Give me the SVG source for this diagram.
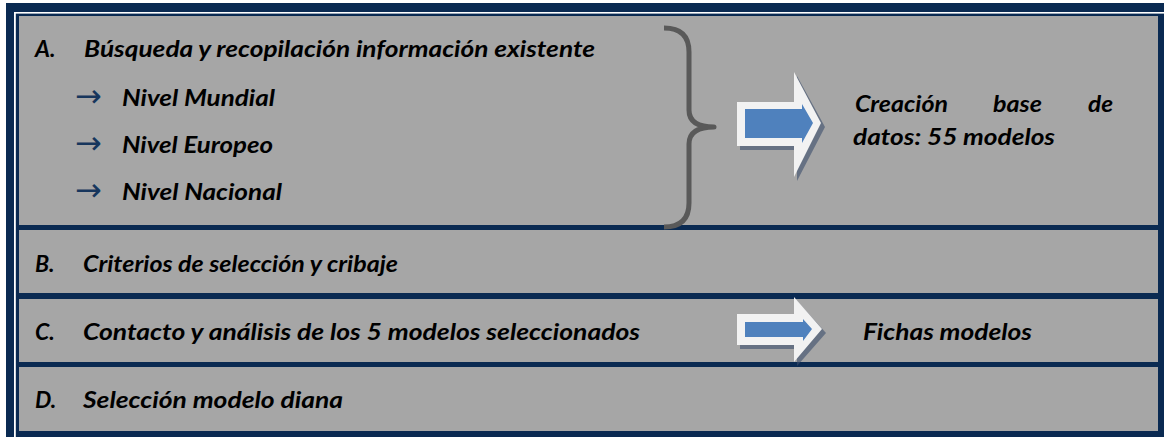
<svg xmlns="http://www.w3.org/2000/svg" width="1164" height="437" viewBox="0 0 1164 437">
<style>
.cell{fill:#a6a6a6}
.t{font-family:Lato,"Liberation Sans",sans-serif;font-weight:bold;font-style:italic;font-size:23px;fill:#000}
.arr{font-family:"DejaVu Sans",sans-serif;font-size:32px;fill:#17365d}
.outer{fill:#f2f2f2}
.inner{fill:#4f81bd}
.shadow{fill:#3c4e6c;opacity:0.6}
</style>
<rect x="0" y="0" width="1164" height="437" fill="#ffffff"/>
<rect x="6" y="3" width="1158" height="434" fill="#0a2a52"/>
<rect x="14" y="12" width="1150" height="1.6" fill="#ffffff"/>
<rect x="14" y="12" width="1.8" height="425" fill="#ffffff"/>
<g id="rowA">
<rect class="cell" x="19" y="16" width="1139" height="209"/>
<text class="t" x="35" y="57">A.</text>
<text class="t" x="84" y="57" textLength="511" lengthAdjust="spacingAndGlyphs">Búsqueda y recopilación información existente</text>
<text class="arr" x="75" y="107">→</text>
<text class="t" x="122" y="106" textLength="153" lengthAdjust="spacingAndGlyphs">Nivel Mundial</text>
<text class="arr" x="75" y="154">→</text>
<text class="t" x="122" y="153" textLength="151" lengthAdjust="spacingAndGlyphs">Nivel Europeo</text>
<text class="arr" x="75" y="201">→</text>
<text class="t" x="122" y="200" textLength="160" lengthAdjust="spacingAndGlyphs">Nivel Nacional</text>
</g>
<g id="brace">
<path d="M664,28 Q689,28 689,52 L689,110 Q689,127 714,127 Q689,127 689,144 L689,203 Q689,227 664,227" fill="none" stroke="#595959" stroke-width="5" stroke-linejoin="round"/>
</g>
<g id="rowB">
<rect class="cell" x="19" y="230" width="1139" height="63"/>
<text class="t" x="35" y="272">B.</text>
<text class="t" x="83" y="272" textLength="315" lengthAdjust="spacingAndGlyphs">Criterios de selección y cribaje</text>
</g>
<g id="rowC">
<rect class="cell" x="19" y="299" width="1139" height="63"/>
<text class="t" x="35" y="340">C.</text>
<text class="t" x="83" y="340" textLength="557" lengthAdjust="spacingAndGlyphs">Contacto y análisis de los 5 modelos seleccionados</text>
</g>
<g id="rowD">
<rect class="cell" x="19" y="367" width="1139" height="64"/>
<text class="t" x="35" y="408">D.</text>
<text class="t" x="83" y="408" textLength="260" lengthAdjust="spacingAndGlyphs">Selección modelo diana</text>
</g>
<g id="connectors">
<g id="arrow1">
<polygon class="shadow" points="740,106 797,106 797,76 825,127 797,181 797,150 740,150"/>
<polygon class="outer" points="737,102 794,102 794,72 821,123 794,177 794,146 737,146"/>
<polygon class="inner" points="745,109 802,109 802,104 813,123 802,143 802,138 745,138"/>
</g>
<g id="arrow2">
<polygon class="shadow" points="740,318 797,318 797,301 826,333 797,366 797,349 740,349"/>
<polygon class="outer" points="737,314 794,314 794,297 822,329 794,362 794,345 737,345"/>
<polygon class="inner" points="745,322 803,322 803,319 812,329 803,341 803,337 745,337"/>
</g>
</g>
<g id="result1">
<text class="t" x="855" y="112" textLength="93" lengthAdjust="spacingAndGlyphs">Creación</text>
<text class="t" x="993" y="112" textLength="49" lengthAdjust="spacingAndGlyphs">base</text>
<text class="t" x="1088" y="112" textLength="25" lengthAdjust="spacingAndGlyphs">de</text>
<text class="t" x="853" y="145" textLength="202" lengthAdjust="spacingAndGlyphs">datos: 55 modelos</text>
</g>
<g id="result2">
<text class="t" x="863" y="340" textLength="169" lengthAdjust="spacingAndGlyphs">Fichas modelos</text>
</g>
</svg>
